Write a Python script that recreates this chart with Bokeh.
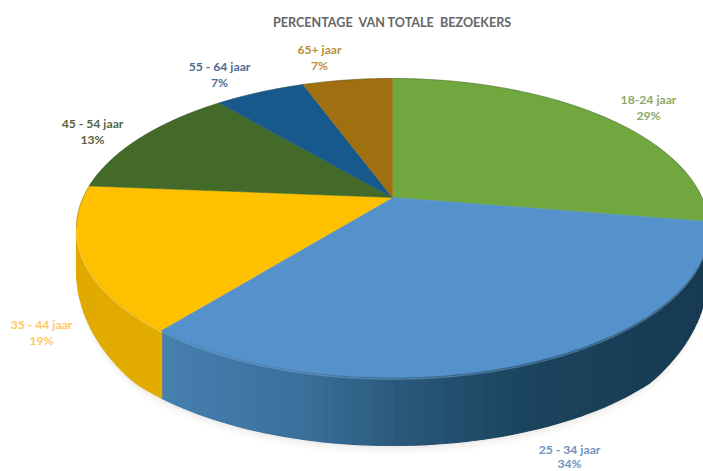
import math
from bokeh.plotting import figure
from bokeh.models import Range1d
from bokeh.core.properties import value
from bokeh.embed import file_html
from bokeh.resources import INLINE

# --- data ---
categories = ["18-24 jaar", "25 - 34 jaar", "35 - 44 jaar", "45 - 54 jaar", "55 - 64 jaar", "65+ jaar"]
drawn_share = [27.6, 33.2, 15.5, 12.5, 5.6, 5.6]       # size of each slice as drawn
printed_pct = ["29%", "34%", "19%", "13%", "7%", "7%"]  # percentages as printed
title_text = "PERCENTAGE\u00a0 VAN TOTALE\u00a0 BEZOEKERS"

# --- styling ---
top_colors = ["#70A83F", "#5592CB", "#FFC000", "#436A28", "#17598C", "#A06F10"]
label_colors = ["#8CA868", "#6E93C2", "#FFC95E", "#56633F", "#4C6C94", "#BC8E3A"]
label_xy = [(648, 99), (569, 449), (41, 324), (92, 123), (219, 66), (319, 49)]
line_gap = 16

# --- projection of the tilted disc (page pixels) ---
CX, CY = 392.0, 197.0
B, C = 0.204, 143.3
A = 309.4
DEPTH = 68.0

def proj(theta_deg, dy=0.0):
    t = math.radians(theta_deg)
    u, v = math.sin(t), math.cos(t)
    w = 1 + B * v
    return CX + A * u / w, CY - C * v / w + dy

def depth_at(theta_deg):
    # the wall reads shorter towards the sides of the tilted disc
    v = abs(math.cos(math.radians(theta_deg)))
    return DEPTH * (1 - 0.4 * max(0.0, (0.7 - v) / 0.5))

def frange(a, b, step):
    n = max(2, int(abs(b - a) / step) + 1)
    return [a + (b - a) * i / (n - 1) for i in range(n)]

def mix(stops, x):
    for (x0, c0), (x1, c1) in zip(stops, stops[1:]):
        if x <= x1:
            f = max(0.0, (x - x0) / (x1 - x0))
            rgb = [int(round(c0[i] + (c1[i] - c0[i]) * f)) for i in range(3)]
            return "#%02x%02x%02x" % tuple(rgb)
    return "#%02x%02x%02x" % stops[-1][1]

total = sum(drawn_share)
edges = [0.0]
for s in drawn_share:
    edges.append(edges[-1] + s / total * 360)

p = figure(width=703, height=471, x_range=Range1d(0, 703), y_range=Range1d(471, 0),
           output_backend="svg", toolbar_location=None, min_border=0,
           outline_line_color=None, background_fill_color="white", border_fill_color="white")
p.axis.visible = False
p.grid.visible = False

# soft shadow under the body
front = frange(95, 265, 2)
for grow, alpha in [(9, 0.05), (6, 0.06), (3, 0.08)]:
    sx = [proj(t, depth_at(t) + grow)[0] for t in front] + [proj(t)[0] for t in reversed(front)]
    sy = [proj(t, depth_at(t) + grow)[1] for t in front] + [proj(t)[1] for t in reversed(front)]
    p.patch(sx, sy, fill_color="#b8a898", fill_alpha=alpha, line_color=None)

# side wall
blue_stops = [(160, (70, 128, 176)), (300, (58, 112, 156)), (400, (42, 88, 122)),
              (520, (28, 68, 94)), (710, (22, 58, 82))]
gold_stops = [(70, (224, 170, 0)), (170, (226, 172, 0))]
wall_x, wall_y, wall_c = [], [], []
t_left = 180 + math.degrees(math.acos(B))
t_right = math.degrees(math.acos(-B))
for lo, hi, stops in [(t_right, edges[2], blue_stops), (edges[2], t_left, gold_stops)]:
    ts = frange(lo, hi, 1.5)
    for t0, t1 in zip(ts, ts[1:]):
        a0, a1 = proj(t0), proj(t1)
        b0, b1 = proj(t0, depth_at(t0)), proj(t1, depth_at(t1))
        wall_x.append([a0[0], a1[0], b1[0], b0[0]])
        wall_y.append([a0[1], a1[1], b1[1], b0[1]])
        wall_c.append(mix(stops, (a0[0] + a1[0]) / 2))
p.patches(wall_x, wall_y, fill_color=wall_c, line_color=wall_c, line_width=1.2)

# top face
xs, ys = [], []
for lo, hi in zip(edges, edges[1:]):
    ts = frange(lo, hi, 1.0)
    pts = [(CX, CY)] + [proj(t) for t in ts]
    xs.append([q[0] for q in pts])
    ys.append([q[1] for q in pts])
p.patches(xs, ys, fill_color=top_colors, line_color=top_colors, line_width=0.5)

# bevel highlight along the front rim, dark hairline along the back rim
for lo, hi, col, al in [(t_right, edges[2], "#86B4DE", 0.45), (edges[2], t_left, "#FFD75A", 0.6)]:
    ts = frange(lo, hi, 1.0)
    p.line([proj(t, 1.5)[0] for t in ts], [proj(t, 1.5)[1] for t in ts],
           line_color=col, line_alpha=al, line_width=1.5)
ts = frange(t_left, 360 + t_right, 1.0)
p.line([proj(t)[0] for t in ts], [proj(t)[1] for t in ts],
       line_color="#33401f", line_alpha=0.4, line_width=0.8)

# labels
font = value("Lato")
p.text(x=[392], y=[22], text=[title_text], text_font=font, text_font_size="12.6px",
       text_font_style="bold", text_color="#666666", text_align="center", text_baseline="middle")
p.text(x=[q[0] for q in label_xy], y=[q[1] for q in label_xy], text=categories,
       text_font=font, text_font_size="12.2px", text_font_style="bold", text_color=label_colors,
       text_align="center", text_baseline="middle")
p.text(x=[q[0] for q in label_xy], y=[min(q[1] + line_gap, 463) for q in label_xy], text=printed_pct,
       text_font=font, text_font_size="12.2px", text_font_style="bold", text_color=label_colors,
       text_align="center", text_baseline="middle")

open("out.html", "w").write(file_html(p, INLINE))
